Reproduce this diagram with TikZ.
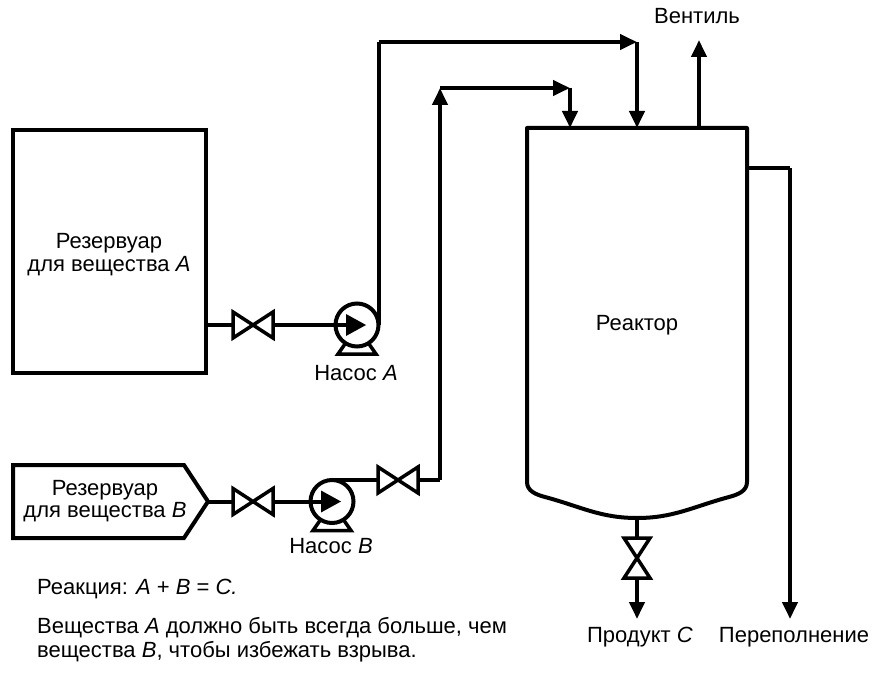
\documentclass[tikz,border=0pt]{standalone}
\usepackage{fontspec}
\setmainfont{Liberation Sans}
\usetikzlibrary{arrows.meta}
\tikzset{
  pipe/.style={line width=4pt},
  arr/.style={pipe,-{Triangle[length=17pt,width=15pt]}},
  lbl/.style={font=\fontsize{22}{22}\selectfont, align=center, inner sep=0pt, anchor=base},
  valve/.pic={\draw[line width=3.5pt, line join=miter, fill=white] (-20,-13) -- (-20,13) -- (20,-13) -- (20,13) -- cycle;},
  pump/.pic={
    \draw[line width=4pt] (0,0) circle (21.5);
    \fill (-11,-11) -- (9,0) -- (-11,11) -- cycle;
    \draw[line width=3.5pt, line join=miter] (-12,19) -- (-19,29) -- (19,29) -- (12,19);
  },
}
\begin{document}
\begin{tikzpicture}[x=1pt,y=-1pt]
\useasboundingbox (0,0) rectangle (872,676);
% tank A
\node[draw, pipe, minimum width=193pt, minimum height=243pt] (tA) at (109.5,251.5) {};
\node[lbl] (tAl) at (109,271) {Резервуар\\для вещества \textit{A}};
% tank B
\draw[pipe, line join=miter] (13,465) -- (184,465) -- (208,501.5) -- (184,538) -- (13,538) -- cycle;
\node[lbl] (tBl) at (105,517) {Резервуар\\для вещества \textit{B}};
% coordinates
\coordinate (aout) at (206,325);
\coordinate (vA) at (253,325);
\coordinate (pA) at (357,325);
\coordinate (pAo) at (378.5,325);
\coordinate (c1) at (378.5,42);
\coordinate (c2) at (637,42);
\coordinate (rA) at (637,128);
\coordinate (bout) at (208,501.5);
\coordinate (vB1) at (253,501.5);
\coordinate (pB) at (332,501.5);
\coordinate (pBo) at (332,480);
\coordinate (vB2) at (398,480);
\coordinate (c3) at (440,480);
\coordinate (c4) at (440,88);
\coordinate (c5) at (570,88);
\coordinate (rB) at (570,128);
\coordinate (vt) at (699,128);
\coordinate (vtop) at (699,40);
\coordinate (o1) at (747,168);
\coordinate (o2) at (790,168);
\coordinate (o3) at (790,619);
\coordinate (ob) at (637,518);
\coordinate (vC) at (637,558);
\coordinate (oc) at (637,619);
% reactor
\draw[pipe, line join=round] (527,128) -- (527,482) to[out=-90,in=165] (545,497) to[out=-15,in=180] (637,518)
  to[out=0,in=195] (729,497) to[out=15,in=-90] (747,482) -- (747,128) -- cycle;
\node[lbl, anchor=center] (rl) at (637,325) {Реактор};
% line A
\draw[pipe] (aout) -- (pA);
\draw[pipe] (pAo) -- (c1);
\draw[arr] (c1) -- (c2);
\draw[arr] (c2) -- (rA);
\pic at (vA) {valve};
\pic at (pA) {pump};
% line B
\draw[pipe] (bout) -- (pB);
\draw[pipe] (pBo) -- (c3);
\draw[arr] (c3) -- (c4);
\draw[arr] (c4) -- (c5);
\draw[arr] (c5) -- (rB);
\pic at (vB1) {valve};
\pic at (vB2) {valve};
\pic at (pB) {pump};
% vent, overflow, product
\draw[arr] (vt) -- (vtop);
\draw[pipe] (o1) -- (o2);
\draw[arr] (o2) -- (o3);
\draw[arr] (ob) -- (oc);
\pic[rotate=90] at (vC) {valve};
% labels
\node[lbl] (lpA) at (356,380) {Насос \textit{A}};
\node[lbl] (lpB) at (331,553) {Насос \textit{B}};
\node[lbl] (lvt) at (697,24) {Вентиль};
\node[lbl] (lpc) at (640,642) {Продукт \textit{C}};
\node[lbl] (lov) at (794,642) {Переполнение};
\node[lbl, anchor=base west] (n1) at (37,594) {Реакция: \textit{A} + \textit{B} = \textit{C.}};
\node[lbl, anchor=base west, align=left, font=\fontsize{22}{24}\selectfont] (n2) at (37,657) {Вещества \textit{A} должно быть всегда больше, чем\\вещества \textit{B}, чтобы избежать взрыва.};
\end{tikzpicture}
\end{document}
